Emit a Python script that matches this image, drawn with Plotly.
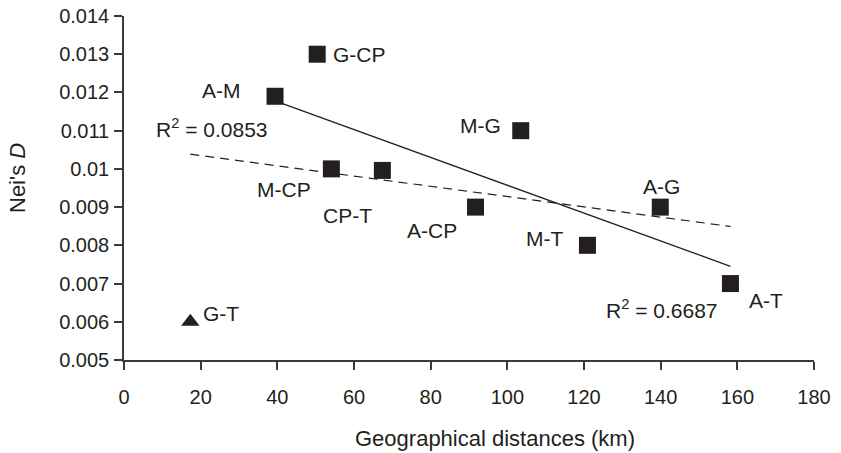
import numpy as np
import plotly.graph_objects as go

# ---- data ----
pair_labels = ["A-M", "G-CP", "M-CP", "CP-T", "A-CP", "M-G", "M-T", "A-G", "A-T"]
distance_km = [39.4, 50.4, 54.1, 67.4, 91.7, 103.5, 120.9, 139.9, 158.2]
neis_d = [0.0119, 0.0130, 0.0100, 0.00996, 0.0090, 0.0110, 0.0080, 0.0090, 0.0070]

outlier_label = ["G-T"]
outlier_distance = [17.3]
outlier_d = [0.0060]

r2_all_text = "R<sup>2</sup> = 0.0853"
r2_squares_text = "R<sup>2</sup> = 0.6687"

x_tick_vals = [0, 20, 40, 60, 80, 100, 120, 140, 160, 180]
y_tick_vals = [0.005, 0.006, 0.007, 0.008, 0.009, 0.010, 0.011, 0.012, 0.013, 0.014]
y_tick_text = ["0.005", "0.006", "0.007", "0.008", "0.009", "0.01", "0.011", "0.012", "0.013", "0.014"]

# ---- styling ----
INK = "#231f20"
AXIS = "#3a3a3a"
FONT = "Liberation Sans, Arial, sans-serif"

# regressions computed from the data
sx = np.array(distance_km)
sy = np.array(neis_d)
ax_ = np.array(distance_km + outlier_distance)
ay_ = np.array(neis_d + outlier_d)
m1, b1 = np.polyfit(sx, sy, 1)
m2, b2 = np.polyfit(ax_, ay_, 1)
x1 = np.array([sx.min(), sx.max()])
x2 = np.array([ax_.min(), ax_.max()])

fig = go.Figure()
fig.add_trace(go.Scatter(x=x2, y=m2 * x2 + b2, mode="lines",
                         line=dict(color=INK, width=1.2, dash="9px,6px"),
                         showlegend=False, hoverinfo="skip"))
fig.add_trace(go.Scatter(x=x1, y=m1 * x1 + b1, mode="lines",
                         line=dict(color=INK, width=1.3),
                         showlegend=False, hoverinfo="skip"))
fig.add_trace(go.Scatter(x=distance_km, y=neis_d, mode="markers",
                         marker=dict(symbol="square", size=17, color=INK),
                         showlegend=False))
fig.add_trace(go.Scatter(x=outlier_distance, y=outlier_d, mode="markers",
                         marker=dict(symbol="triangle-up", size=16, color=INK),
                         showlegend=False))

# label offsets in pixels (dx right, dy down)
offsets = {
    "A-M": (-54, -6), "G-CP": (42, 0), "M-CP": (-47, 21), "CP-T": (-35, 45),
    "A-CP": (-44, 23), "M-G": (-40, -5), "M-T": (-43, -7), "A-G": (1, -21),
    "A-T": (36, 17), "G-T": (31, -8),
}
for lab, xv, yv in zip(pair_labels + outlier_label, distance_km + outlier_distance, neis_d + outlier_d):
    dx, dy = offsets[lab]
    fig.add_annotation(x=xv, y=yv, xref="x", yref="y", text=lab, showarrow=False,
                       xshift=dx, yshift=-dy, xanchor="center", yanchor="middle",
                       font=dict(family=FONT, size=21, color=INK))

fig.add_annotation(x=23, y=0.01107, xref="x", yref="y", text=r2_all_text, showarrow=False,
                   xanchor="center", yanchor="middle", font=dict(family=FONT, size=21, color=INK))
fig.add_annotation(x=140.3, y=0.00633, xref="x", yref="y", text=r2_squares_text, showarrow=False,
                   xanchor="center", yanchor="middle", font=dict(family=FONT, size=21, color=INK))

W, H = 841, 453
L, R, T, B = 124, 27, 16, 93
pw, ph = W - L - R, H - T - B

def paper_x(px):
    return (px - L) / pw

def paper_y(py):
    return (H - B - py) / ph

# axis titles
fig.add_annotation(x=paper_x(495), y=paper_y(438), xref="paper", yref="paper",
                   text="Geographical distances (km)", showarrow=False,
                   xanchor="center", yanchor="middle",
                   font=dict(family=FONT, size=22, color=INK))
fig.add_annotation(x=paper_x(18), y=paper_y(178), xref="paper", yref="paper",
                   text="Nei's <i>D</i>", showarrow=False, textangle=-90,
                   xanchor="center", yanchor="middle",
                   font=dict(family=FONT, size=22, color=INK))

fig.update_layout(
    width=W, height=H,
    margin=dict(l=L, r=R, t=T, b=B, autoexpand=False),
    plot_bgcolor="white", paper_bgcolor="white",
    font=dict(family=FONT, size=20, color=INK),
    hovermode=False,
    xaxis=dict(range=[0, 180], tickvals=x_tick_vals, showgrid=False, zeroline=False,
               showline=True, linecolor=AXIS, linewidth=1.5,
               ticks="outside", ticklen=8, tickwidth=1.5, tickcolor=AXIS,
               ticklabelstandoff=10,
               tickfont=dict(size=20, color=INK, family=FONT)),
    yaxis=dict(range=[0.005, 0.014], tickvals=y_tick_vals, ticktext=y_tick_text,
               showgrid=False, zeroline=False,
               showline=True, linecolor=AXIS, linewidth=1.5,
               ticks="outside", ticklen=8, tickwidth=1.5, tickcolor=AXIS,
               ticklabelstandoff=1, ticklabeloverflow="allow",
               tickfont=dict(size=20, color=INK, family=FONT)),
)

fig.write_html("out.html",
               config={"displayModeBar": False},
               post_script="document.body.style.margin='0';document.body.style.overflow='hidden';")
